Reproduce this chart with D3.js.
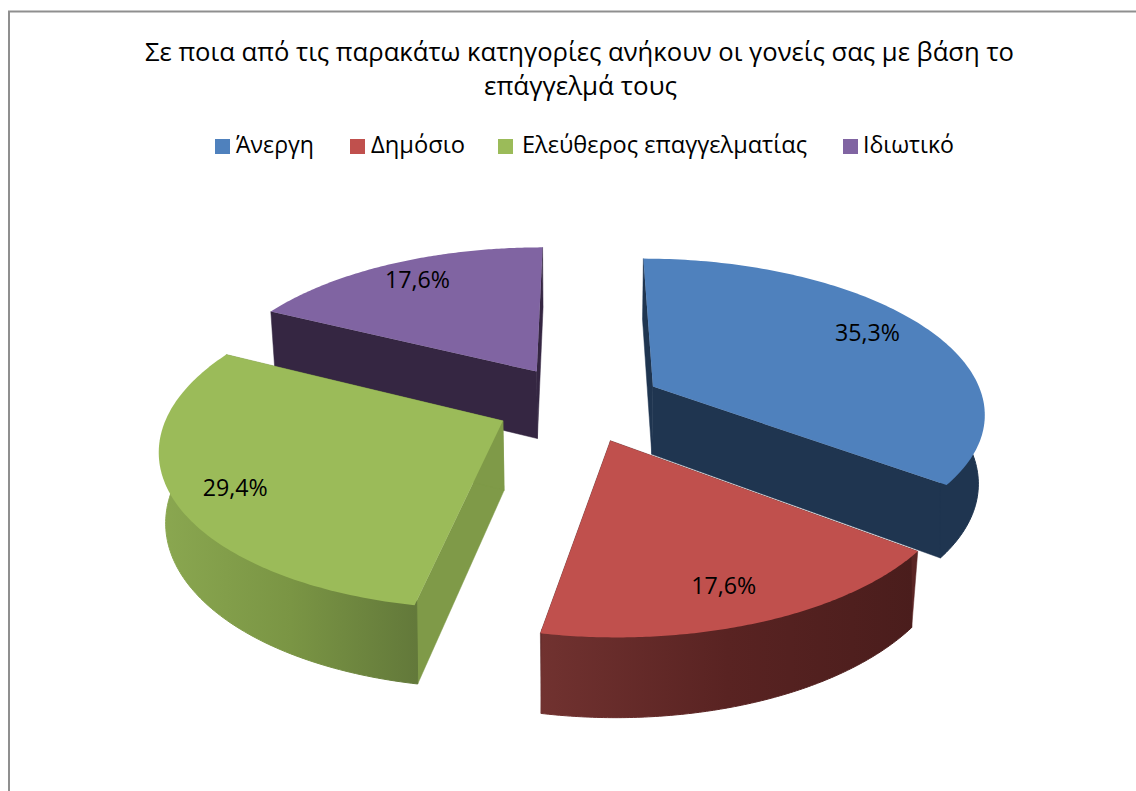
<!DOCTYPE html><html><head><meta charset="utf-8">
<style>html,body{margin:0;background:#fff}svg{display:block}text{font-family:"Open Sans",sans-serif;fill:#000}</style>
</head><body><svg id="c" width="1136" height="791"></svg>
<script src="https://cdn.jsdelivr.net/npm/d3@7"></script>
<script>
const titleLines=["Σε ποια από τις παρακάτω κατηγορίες ανήκουν οι γονείς σας με βάση το","επάγγελμά τους"];
const categories=["Άνεργη","Δημόσιο","Ελεύθερος επαγγελματίας","Ιδιωτικό"];
const values=[35.3,17.6,29.4,17.6];
const valueLabels=["35,3%","17,6%","29,4%","17,6%"];
const topColors=["#4f81bd","#c0504d","#9bbb59","#8064a2"];
const sideColors=["#1f3550","#5a2524","#7f9a48","#352642"];
const legendBoxX=[215,350,498,843], legendTextX=[236,371,522,863], legendTextW=[78,94,285,91];
const labelRadius=[.806,.82,.83,.825], labelFraction=[.485,.521,.478,.51];

const svg=d3.select("#c");
svg.append("path").attr("d","M9,791V11.5H1136").attr("fill","none").attr("stroke","#8f8f8f").attr("stroke-width",2);

[[145,869,61],[484,193,95]].forEach(([x,w,y],i)=>svg.append("text").attr("x",x).attr("y",y).attr("font-size",26)
  .attr("textLength",w).attr("lengthAdjust","spacingAndGlyphs").text(titleLines[i]));

categories.forEach((c,i)=>{
  svg.append("rect").attr("x",legendBoxX[i]).attr("y",139).attr("width",15).attr("height",15).attr("fill",topColors[i]);
  svg.append("text").attr("x",legendTextX[i]).attr("y",153).attr("font-size",23.5)
    .attr("textLength",legendTextW[i]).attr("lengthAdjust","spacingAndGlyphs").text(c);
});

const cam={x0:579.23,y0:403.37,a:331.67,b:152.83,p:.1564,explode:.2523,rot:.0009,q:.0159,d:69.74};
const slices=d3.pie().sort(null).startAngle(cam.rot).endAngle(cam.rot+2*Math.PI)(values);
function project(s,r,t,z){
  const m=(s.startAngle+s.endAngle)/2;
  const X=r*Math.sin(t)+cam.explode*Math.sin(m), Y=-r*Math.cos(t)-cam.explode*Math.cos(m);
  const w=1-cam.p*Y+cam.q*z;
  return [cam.x0+cam.a*X/w, cam.y0+(cam.b*Y+cam.d*z)/w];
}
const line=d3.line();
const defs=svg.append("defs");
function grad(id,x1,x2,stops){
  const g=defs.append("linearGradient").attr("id",id).attr("gradientUnits","userSpaceOnUse").attr("x1",x1).attr("x2",x2).attr("y1",0).attr("y2",0);
  stops.forEach(([o,c])=>g.append("stop").attr("offset",o).attr("stop-color",c));
}
grad("g1",540,915,[[0,"#713230"],[.5,"#592322"],[1,"#4a1d1c"]]);
grad("g2",162,420,[[0,"#8aa750"],[.5,"#7a9544"],[1,"#62783a"]]);
const wallFill=["#1f3550","url(#g1)","url(#g2)","#352642"];

const angles=s=>d3.range(0,121).map(k=>s.startAngle+(s.endAngle-s.startAngle)*k/120);
[3,0,2,1].forEach(i=>{
  const s=slices[i], g=svg.append("g");
  [s.startAngle,s.endAngle].forEach(t=>{
    g.append("path").attr("fill",sideColors[i]).attr("stroke",sideColors[i]).attr("stroke-width",.5)
     .attr("d",line([project(s,0,t,0),project(s,1,t,0),project(s,1,t,1),project(s,0,t,1)])+"Z");
  });
  const front=angles(s).filter(t=>Math.cos(t)<=0.2);
  if(front.length>1){
    g.append("path").attr("fill",wallFill[i]).attr("stroke",wallFill[i]).attr("stroke-width",1)
     .attr("d",line(front.map(t=>project(s,.98,t,0)).concat(front.slice().reverse().map(t=>project(s,1,t,1))))+"Z");
  }
  const top=[project(s,0,0,0)].concat(angles(s).map(t=>project(s,1,t,0)));
  g.append("path").attr("fill",topColors[i]).attr("d",line(top)+"Z");
});
slices.forEach((s,i)=>{
  const [x,y]=project(s,labelRadius[i],s.startAngle+(s.endAngle-s.startAngle)*labelFraction[i],0);
  svg.append("text").attr("x",x).attr("y",y+8).attr("text-anchor","middle").attr("font-size",24.5)
    .attr("textLength",65).attr("lengthAdjust","spacingAndGlyphs").text(valueLabels[i]);
});
</script></body></html>
